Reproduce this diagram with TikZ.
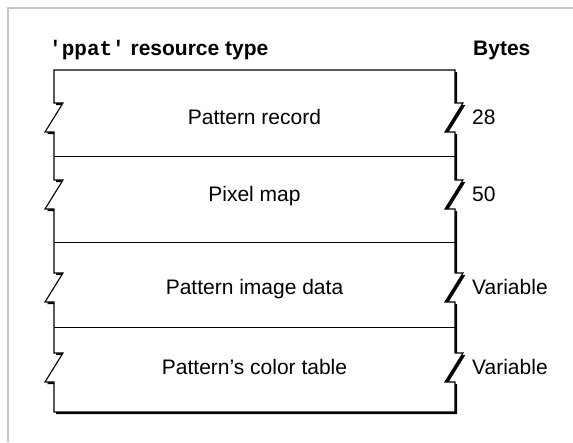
\documentclass[tikz,border=0pt]{standalone}
\usepackage{fontspec}
\setmainfont{Liberation Sans}
\setmonofont{Liberation Mono}
\usepackage{tikz}
\usetikzlibrary{positioning}

\begin{document}
\begin{tikzpicture}[x=1pt,y=-1pt,
    every node/.style={inner sep=0pt,font=\fontsize{21}{25}\selectfont},
    fieldname/.style={anchor=base},
    fieldsize/.style={anchor=base west},
    boxline/.style={line width=1.1pt,line join=miter}]

\useasboundingbox (0,0) rectangle (573,442);

\def\boxleft{54}
\def\boxright{455}
\def\boxtop{70}
\def\boxbottom{412}
\def\breakheight{29}

\newcommand\ppatoutline
{
    (\boxleft,\boxtop)
    foreach \y in {103,180,273,353}
    { -- (\boxleft,\y) -- (\boxleft+9,\y) -- (\boxleft-9,\y+\breakheight) -- (\boxleft,\y+\breakheight) }
    -- (\boxleft,\boxbottom) -- (\boxright,\boxbottom)
    foreach \y in {353,273,180,103}
    { -- (\boxright,\y+\breakheight) -- (\boxright-10,\y+\breakheight) -- (\boxright+8,\y) -- (\boxright,\y) }
    -- (\boxright,\boxtop) -- cycle
}

% frame
\draw [line width=2pt,color=black!22] (8,442) -- (8,8) -- (573,8);

% shadow, then the box
\fill [black,shift={(2.2,2.2)}] \ppatoutline;
\filldraw [boxline,fill=white] \ppatoutline;

\foreach \y [count=\i] in {156,242,327}
    \draw [line width=1pt] (\boxleft,\y) -- (\boxright,\y);

\node (title) [anchor=base west] at (49,55) {{\ttfamily\bfseries\textquotesingle ppat\textquotesingle} \textbf{resource type}};
\node (bytes) [anchor=base west] at (473,55) {\textbf{Bytes}};

\node (record) [fieldname] at (254.5,124.5) {Pattern record};
\node (pixmap) [fieldname] at (254.5,201) {Pixel map};
\node (imagedata) [fieldname] at (254.5,294.5) {Pattern image data};
\node (colortable) [fieldname] at (254.5,374.5) {Pattern’s color table};

\coordinate (sizecol) at (472,0);
\node (recordsize) [fieldsize] at (sizecol |- record.base) {28};
\node (pixmapsize) [fieldsize] at (sizecol |- pixmap.base) {50};
\node (imagedatasize) [fieldsize] at (sizecol |- imagedata.base) {Variable};
\node (colortablesize) [fieldsize] at (sizecol |- colortable.base) {Variable};

\end{tikzpicture}
\end{document}
